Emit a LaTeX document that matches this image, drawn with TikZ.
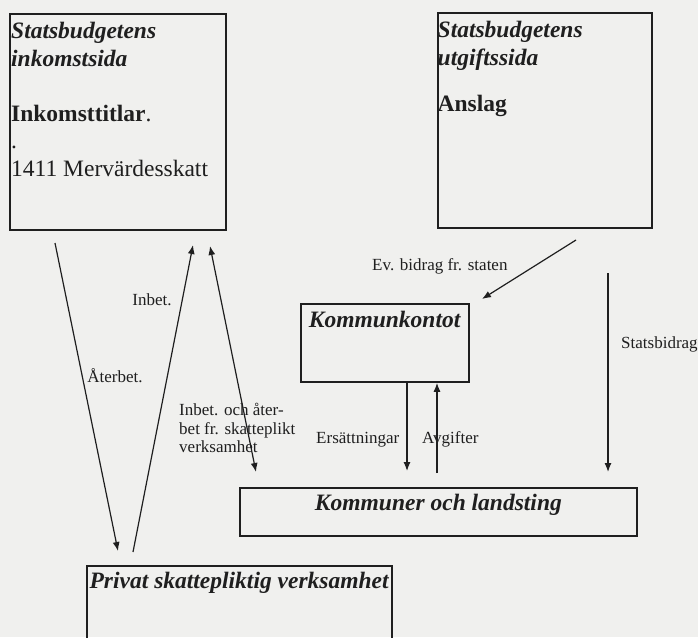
\documentclass[tikz,border=0pt]{standalone}
\usepackage{fontspec}
\setmainfont{Liberation Serif}
\usetikzlibrary{arrows.meta,calc,positioning}
\definecolor{paper}{RGB}{240,240,238}
\colorlet{ink}{black!88}
\tikzset{
  box/.style={draw=ink, line width=1.8pt, inner sep=0pt, anchor=north west},
  head/.style={font=\fontsize{23.5}{27.5}\selectfont, text=ink, inner sep=0pt, align=left},
  flow/.style={draw=ink, line width=1.2pt, -{Latex[length=9pt,width=7pt]}},
  lbl/.style={font=\fontsize{17}{18.6}\selectfont, text=ink, inner sep=0pt, align=left}
}

\begin{document}
\begin{tikzpicture}[x=1pt, y=-1pt]
% bakgrund
\fill[paper] (0,0) rectangle (698,637);
\useasboundingbox (0,0) rectangle (698,637);

% statsbudgeten
\node[box, minimum width=216pt, minimum height=216pt] (inc) at (9,13) {};
\node[box, minimum width=214pt, minimum height=215pt] (exp) at (437,12) {};

\node[head, anchor=north west] (incTxt) at ($(inc.north west)+(2,9)$) {%
  \textbf{\textit{Statsbudgetens}}\\
  \textbf{\textit{inkomstsida}}\\[27.5pt]
  \textbf{Inkomsttitlar}.\\
  .\\
  1411 Mervärdesskatt};
\node[head, anchor=north west] (expTxt) at ($(exp.north west)+(0.5,9)$) {%
  \textbf{\textit{Statsbudgetens}}\\
  \textbf{\textit{utgiftssida}}\\[19pt]
  \textbf{Anslag}};

% kommunsektorn
\node[box, minimum width=168pt, minimum height=78pt] (kk) at (300,303) {};
\node[box, minimum width=397pt, minimum height=48pt] (kl) at (239,487) {};
\node[box, minimum width=305pt, minimum height=80pt] (pv) at (86,565) {};

\node[head, anchor=base] (kkTxt) at ($(kk.north)+(0,24)$) {\textbf{\textit{Kommunkontot}}};
\node[head, anchor=base] (klTxt) at ($(kl.north)+(0,23)$) {\textbf{\textit{Kommuner och landsting}}};
\node[head, anchor=base] (pvTxt) at ($(pv.north)+(0,23)$) {\textbf{\textit{Privat skattepliktig verksamhet}}};

% pilarnas ändpunkter
\coordinate (ret0) at (55,243);
\coordinate (ret1) at (118,551);
\coordinate (pay0) at (133,552);
\coordinate (pay1) at (193,245);
\coordinate (mix0) at (210,246);
\coordinate (mix1) at (256,472);
\coordinate (ev0) at (576,240);
\coordinate (ev1) at (482,299);
\coordinate (sb0) at (608,273);
\coordinate (sb1) at (608,472);
\coordinate (ers1) at (407,471);
\coordinate (avg0) at (437,473);

\draw[flow] (ret0) -- (ret1);
\draw[flow] (pay0) -- (pay1);
\draw[flow, {Latex[length=9pt,width=7pt]}-{Latex[length=9pt,width=7pt]}] (mix0) -- (mix1);
\draw[flow] (ev0) -- (ev1);
\draw[flow] (sb0) -- (sb1);
\draw[flow] (kk.south -| ers1) -- (ers1);
\draw[flow] (avg0) -- (kk.south -| avg0);

% texter vid pilarna
\node[lbl, anchor=base] (inbTxt) at (152,305) {Inbet.};
\node[lbl, anchor=base] (retTxt) at (115,382) {Återbet.};
\node[lbl, anchor=north west] (mixTxt) at (179,403) {Inbet. och åter-\\bet fr. skatteplikt\\verksamhet};
\node[lbl, anchor=base west] (evTxt) at (372,270) {Ev. bidrag fr. staten};
\node[lbl, anchor=base west] (sbTxt) at (621,348) {Statsbidrag};
\node[lbl, anchor=base west] (ersTxt) at (316,443) {Ersättningar};
\node[lbl, anchor=base west] (avgTxt) at (422,443) {Avgifter};
\end{tikzpicture}
\end{document}
